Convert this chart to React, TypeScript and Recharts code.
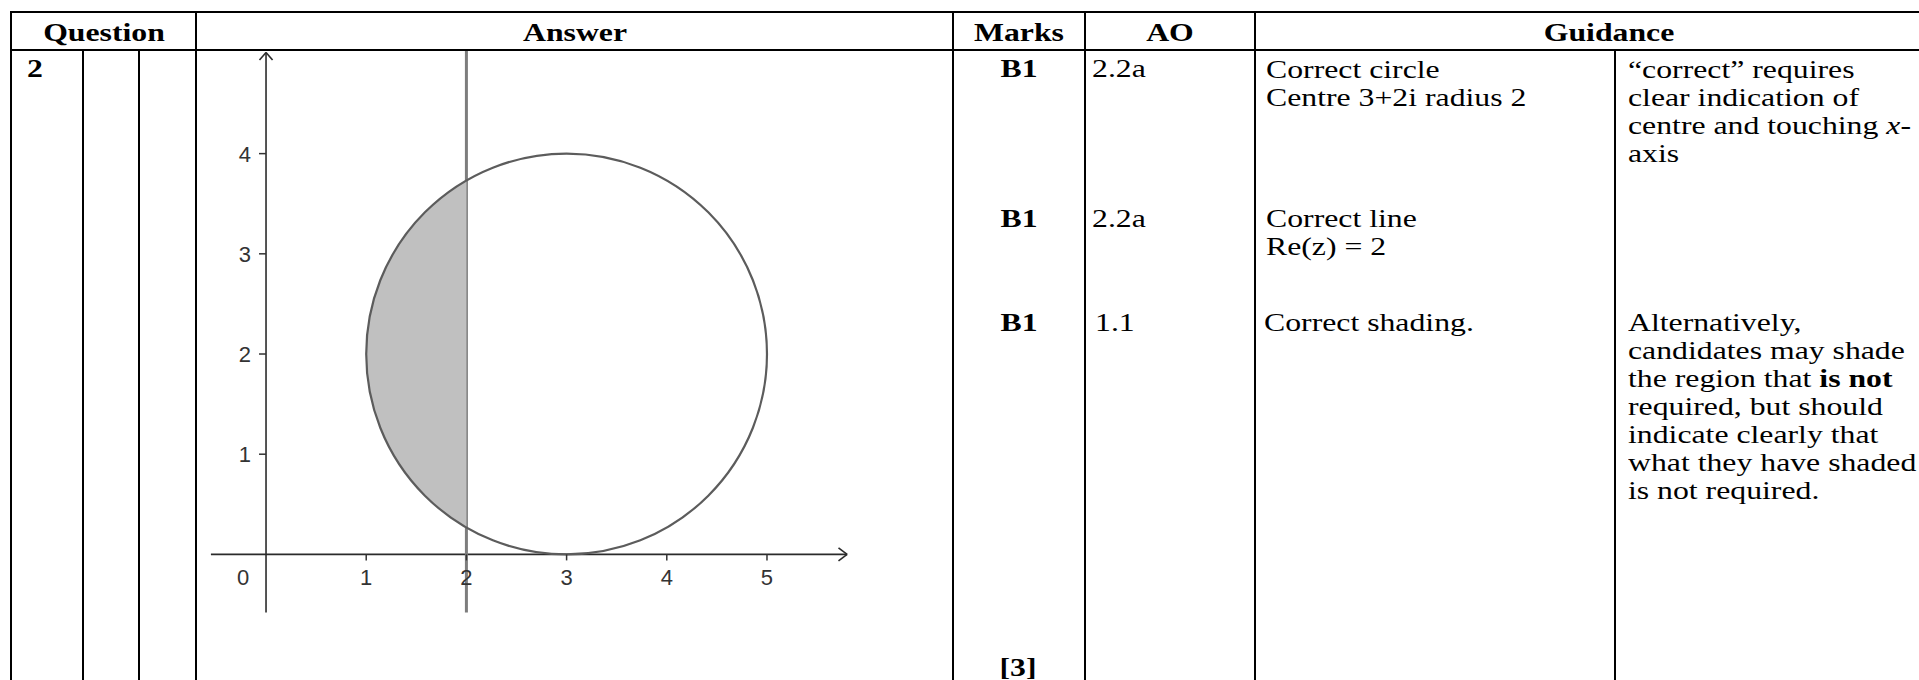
import React from 'react';
import { ComposedChart, XAxis, YAxis, Scatter, ReferenceLine } from 'recharts';

// Argand diagram: |z - (3+2i)| = 2 and Re(z) = 2
const X_TICKS = [0, 1, 2, 3, 4, 5];
const Y_TICKS = [1, 2, 3, 4];
const CIRCLE_CENTRE = [{ x: 3, y: 2 }];
const CIRCLE_RADIUS = 2;
const LINE_RE = 2;
const X_AXIS_RANGE = [-0.55, 5.8];
const Y_AXIS_RANGE = [-0.58, 5.01];
const LINE_RANGE = [-0.58, 5.03];
const ARROW = 0.075;

// table text
const HEADERS = ['Question', 'Answer', 'Marks', 'AO', 'Guidance'];
const MARKS = ['B1', 'B1', 'B1'];
const AO = ['2.2a', '2.2a', '1.1'];
const TOTAL = '[3]';

const X_DOMAIN: [number, number] = [-0.659, 6.128];
const Y_DOMAIN: [number, number] = [-0.7545, 5.134];
const CHART_W = 680;
const CHART_H = 590;
const UNIT = CHART_W / (X_DOMAIN[1] - X_DOMAIN[0]);

const SX = 1.27;
const SERIF = '"Liberation Serif", "Times New Roman", serif';
const SANS = '"Liberation Sans", Arial, sans-serif';

const T = ({ x, y, children, bold, center }: any) => (
  <div
    style={{
      position: 'absolute',
      left: x,
      top: y - 22.4,
      fontFamily: SERIF,
      fontSize: 25,
      lineHeight: '28px',
      fontWeight: bold ? 700 : 400,
      whiteSpace: 'nowrap',
      color: '#000',
      transform: center ? `translateX(-50%) scaleX(${SX})` : `scaleX(${SX})`,
      transformOrigin: center ? 'center' : 'left',
    }}
  >
    {children}
  </div>
);

const VLine = ({ x, top, bottom = 680 }: any) => (
  <div style={{ position: 'absolute', left: x - 1, top, width: 2, height: bottom - top, background: '#000' }} />
);
const HLine = ({ y, left, right = 1919 }: any) => (
  <div style={{ position: 'absolute', left, top: y - 1, width: right - left, height: 2, background: '#000' }} />
);

const Segment = (props: any) => {
  const { cx, cy, payload } = props;
  const r = CIRCLE_RADIUS * UNIT;
  const h = Math.sqrt(CIRCLE_RADIUS ** 2 - (LINE_RE - payload.x) ** 2) * UNIT;
  const lx = cx + (LINE_RE - payload.x) * UNIT;
  return <path d={`M${lx},${cy - h} A${r},${r} 0 0 0 ${lx},${cy + h} Z`} fill="#c0c0c0" stroke="none" />;
};

const Circle = (props: any) => (
  <circle cx={props.cx} cy={props.cy} r={CIRCLE_RADIUS * UNIT} fill="none" stroke="#5c5c5c" strokeWidth={2.2} />
);

const XTick = (props: any) => {
  const { cx, cy, payload } = props;
  if (payload.x === 0) {
    return (
      <text x={cx - 23} y={cy + 31} textAnchor="middle" fontFamily={SANS} fontSize={22} fill="#333">0</text>
    );
  }
  return (
    <g>
      <line x1={cx} y1={cy} x2={cx} y2={cy + 6} stroke="#333" strokeWidth={1.5} />
      <text x={cx} y={cy + 31} textAnchor="middle" fontFamily={SANS} fontSize={22} fill="#333">{payload.x}</text>
    </g>
  );
};

const YTick = (props: any) => {
  const { cx, cy, payload } = props;
  return (
    <g>
      <line x1={cx - 7} y1={cy} x2={cx} y2={cy} stroke="#333" strokeWidth={1.5} />
      <text x={cx - 15} y={cy + 8} textAnchor="end" fontFamily={SANS} fontSize={22} fill="#333">{payload.y}</text>
    </g>
  );
};

const Argand = () => (
  <ComposedChart width={CHART_W} height={CHART_H} margin={{ top: 0, right: 0, bottom: 0, left: 0 }}>
    <XAxis type="number" dataKey="x" domain={X_DOMAIN} hide allowDataOverflow />
    <YAxis type="number" dataKey="y" domain={Y_DOMAIN} hide allowDataOverflow width={0} />
    <Scatter data={CIRCLE_CENTRE} shape={Segment} isAnimationActive={false} />
    <ReferenceLine segment={[{ x: X_AXIS_RANGE[0], y: 0 }, { x: X_AXIS_RANGE[1], y: 0 }]} stroke="#2b2b2b" strokeWidth={1.6} />
    <ReferenceLine segment={[{ x: X_AXIS_RANGE[1], y: 0 }, { x: X_AXIS_RANGE[1] - ARROW * 1.15, y: ARROW * 0.87 }]} stroke="#2b2b2b" strokeWidth={1.6} />
    <ReferenceLine segment={[{ x: X_AXIS_RANGE[1], y: 0 }, { x: X_AXIS_RANGE[1] - ARROW * 1.15, y: -ARROW * 0.87 }]} stroke="#2b2b2b" strokeWidth={1.6} />
    <ReferenceLine segment={[{ x: 0, y: Y_AXIS_RANGE[0] }, { x: 0, y: Y_AXIS_RANGE[1] }]} stroke="#2b2b2b" strokeWidth={1.6} />
    <ReferenceLine segment={[{ x: 0, y: Y_AXIS_RANGE[1] }, { x: -ARROW * 0.87, y: Y_AXIS_RANGE[1] - ARROW }]} stroke="#2b2b2b" strokeWidth={1.6} />
    <ReferenceLine segment={[{ x: 0, y: Y_AXIS_RANGE[1] }, { x: ARROW * 0.87, y: Y_AXIS_RANGE[1] - ARROW }]} stroke="#2b2b2b" strokeWidth={1.6} />
    <Scatter data={CIRCLE_CENTRE} shape={Circle} isAnimationActive={false} />
    <ReferenceLine segment={[{ x: LINE_RE, y: LINE_RANGE[0] }, { x: LINE_RE, y: LINE_RANGE[1] }]} stroke="#7d7d7d" strokeWidth={3} />
    <Scatter data={X_TICKS.map((v) => ({ x: v, y: 0 }))} shape={XTick} isAnimationActive={false} />
    <Scatter data={Y_TICKS.map((v) => ({ x: 0, y: v }))} shape={YTick} isAnimationActive={false} />
  </ComposedChart>
);

export default function App() {
  return (
    <div style={{ position: 'absolute', left: 0, top: 0, width: 1919, height: 680, overflow: 'hidden', background: '#fff' }}>
      <div style={{ position: 'absolute', left: 200, top: 40 }}>
        <Argand />
      </div>

      {/* table grid */}
      <HLine y={12} left={10} />
      <HLine y={50} left={10} />
      <VLine x={11} top={11} />
      <VLine x={83} top={50} />
      <VLine x={139} top={50} />
      <VLine x={196} top={11} />
      <VLine x={953} top={11} />
      <VLine x={1085} top={11} />
      <VLine x={1255} top={11} />
      <VLine x={1615} top={50} />

      {/* header */}
      <T x={103.5} y={41} bold center>{HEADERS[0]}</T>
      <T x={574.5} y={41} bold center>{HEADERS[1]}</T>
      <T x={1019} y={41} bold center>{HEADERS[2]}</T>
      <T x={1170} y={41} bold center>{HEADERS[3]}</T>
      <T x={1609} y={41} bold center>{HEADERS[4]}</T>

      <T x={27} y={77} bold>2</T>

      <T x={1019} y={77} bold center>{MARKS[0]}</T>
      <T x={1019} y={227} bold center>{MARKS[1]}</T>
      <T x={1019} y={331} bold center>{MARKS[2]}</T>
      <T x={1018} y={676} bold center>{TOTAL}</T>

      <T x={1092} y={77}>{AO[0]}</T>
      <T x={1092} y={227}>{AO[1]}</T>
      <T x={1095} y={331}>{AO[2]}</T>

      <T x={1266} y={78}>Correct circle</T>
      <T x={1266} y={106}>Centre 3+2i radius 2</T>
      <T x={1266} y={227}>Correct line</T>
      <T x={1266} y={255}>Re(z) = 2</T>
      <T x={1264} y={331}>Correct shading.</T>

      <T x={1628} y={78}>“correct” requires</T>
      <T x={1628} y={106}>clear indication of</T>
      <T x={1628} y={134}>centre and touching <i>x</i>-</T>
      <T x={1628} y={162}>axis</T>
      <T x={1628} y={331}>Alternatively,</T>
      <T x={1628} y={359}>candidates may shade</T>
      <T x={1628} y={387}>the region that <b>is not</b></T>
      <T x={1628} y={415}>required, but should</T>
      <T x={1628} y={443}>indicate clearly that</T>
      <T x={1628} y={471}>what they have shaded</T>
      <T x={1628} y={499}>is not required.</T>
    </div>
  );
}
